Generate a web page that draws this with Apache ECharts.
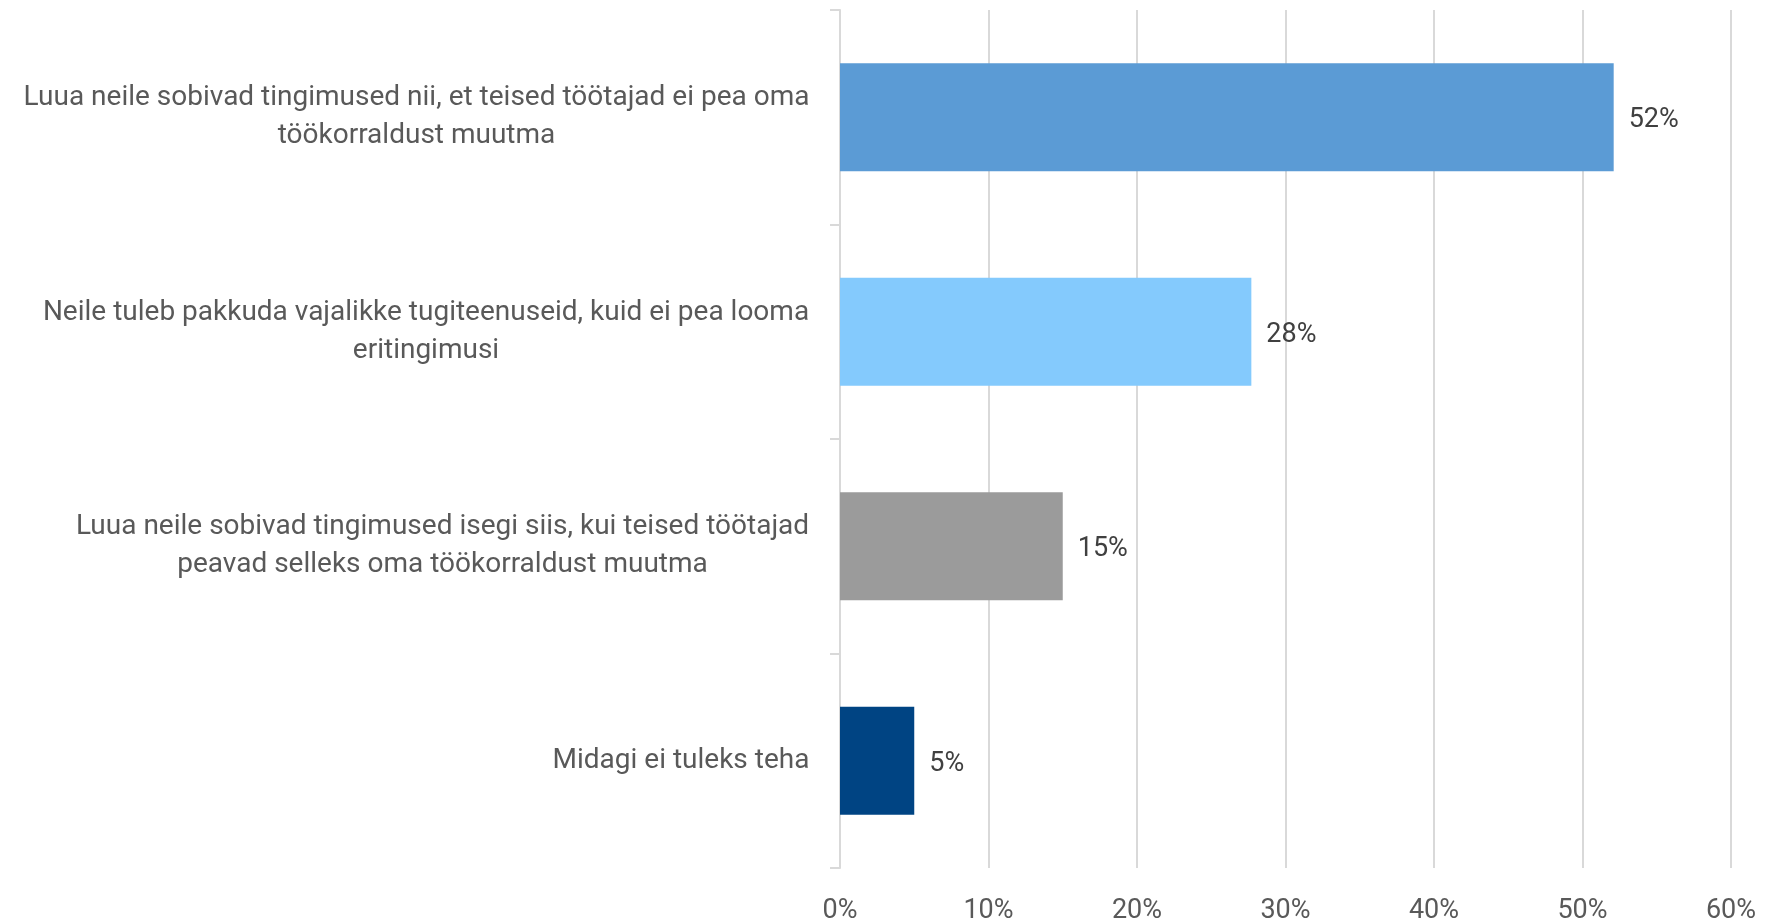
<!DOCTYPE html>
<html>
<head>
<meta charset="utf-8">
<script src="https://cdn.jsdelivr.net/npm/echarts@6/dist/echarts.min.js"></script>
<style>
html,body{margin:0;padding:0;background:#fff;}
#chart{width:1774px;height:922px;}
</style>
</head>
<body>
<div id="chart"></div>
<script>
var categories = [
  "Luua neile sobivad tingimused nii, et teised töötajad ei pea oma\ntöökorraldust muutma",
  "Neile tuleb pakkuda vajalikke tugiteenuseid, kuid ei pea looma\neritingimusi",
  "Luua neile sobivad tingimused isegi siis, kui teised töötajad\npeavad selleks oma töökorraldust muutma",
  "Midagi ei tuleks teha"
];
var values = [52.1, 27.7, 15.0, 5.0];
var barColors = ["#5B9BD5", "#84CAFD", "#9B9B9B", "#004483"];
var xMin = 0, xMax = 60, xStep = 10;

var catFont = { size: 28, family: 'Roboto', color: '#595959', lineHeight: 38 };

// Build rich styles so that wrapped lines are centred within their block
var canvas = document.createElement('canvas');
var ctx = canvas.getContext('2d');
ctx.font = catFont.size + 'px ' + catFont.family;
var rich = {};
categories.forEach(function (c, i) {
  var w = 0;
  c.split('\n').forEach(function (line) { w = Math.max(w, ctx.measureText(line).width); });
  rich['c' + i] = {
    width: Math.ceil(w) + 1, align: 'center',
    fontSize: catFont.size, fontFamily: catFont.family,
    color: catFont.color, lineHeight: catFont.lineHeight
  };
});

var chart = echarts.init(document.getElementById('chart'));
chart.setOption({
  animation: false,
  backgroundColor: '#ffffff',
  grid: { left: 840, right: 43, top: 10, bottom: 54, containLabel: false, outerBoundsMode: 'none' },
  xAxis: {
    type: 'value', min: xMin, max: xMax, interval: xStep,
    axisLine: { show: false },
    axisTick: { show: false },
    splitLine: { show: true, lineStyle: { color: '#d9d9d9', width: 2 } },
    axisLabel: { formatter: '{value}%', color: '#595959', fontFamily: 'Roboto', fontSize: 27, margin: 30 }
  },
  yAxis: {
    type: 'category', data: categories, inverse: true,
    axisLine: { show: true, lineStyle: { color: '#d9d9d9', width: 2 } },
    axisTick: { show: true, length: 10, lineStyle: { color: '#d9d9d9', width: 2 } },
    axisLabel: {
      color: catFont.color, fontFamily: catFont.family, fontSize: catFont.size,
      lineHeight: catFont.lineHeight, margin: 30, align: 'right',
      formatter: function (val, idx) {
        return val.split('\n').map(function (line) { return '{c' + idx + '|' + line + '}'; }).join('\n');
      },
      rich: rich
    }
  },
  series: [{
    type: 'bar',
    data: values.map(function (v, i) { return { value: v, itemStyle: { color: barColors[i] } }; }),
    barWidth: 108,
    label: {
      show: true, position: 'right', distance: 15, offset: [0, 3],
      color: '#404040', fontFamily: 'Roboto', fontSize: 27,
      formatter: function (p) { return Math.round(p.value) + '%'; }
    }
  }]
});
</script>
</body>
</html>
